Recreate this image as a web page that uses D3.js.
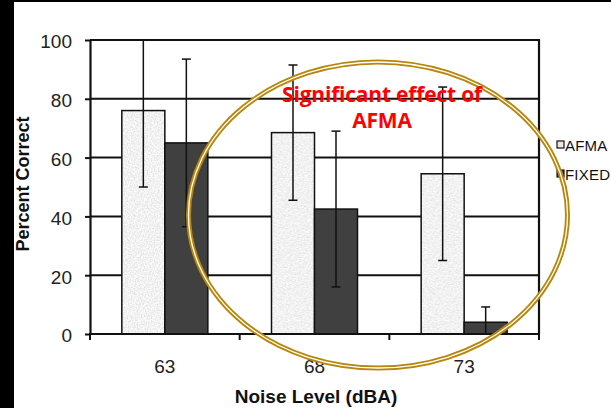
<!DOCTYPE html>
<html><head><meta charset="utf-8">
<script src="https://cdn.jsdelivr.net/npm/d3@7"></script>
<style>
html,body{margin:0;padding:0;background:#fff;}
svg{display:block;}
</style></head>
<body>
<svg id="chart" width="611" height="408"></svg>
<script>
const categories = ["63", "68", "73"];
const seriesNames = ["AFMA", "FIXED"];
const afmaValues = [76, 68.5, 54.5];
const afmaErrors = [26, 23, 29.5];
const fixedValues = [65, 42.5, 4];
const fixedErrors = [28.5, 26.5, 5.2];
const yTickValues = [0, 20, 40, 60, 80, 100];
const annotationLines = ["Significant effect of", "AFMA"];
const xTitle = "Noise Level (dBA)";
const yTitle = "Percent Correct";

const series = [
  {name: seriesNames[0], values: afmaValues, errors: afmaErrors},
  {name: seriesNames[1], values: fixedValues, errors: fixedErrors}
];

const svg = d3.select("#chart");
const W = 611, H = 408;
const plot = {left: 90, right: 539, top: 40, bottom: 334};

// defs: speckled texture for AFMA
const defs = svg.append("defs");
const f = defs.append("filter").attr("id", "noise")
  .attr("x", 0).attr("y", 0).attr("width", "100%").attr("height", "100%")
  .attr("filterUnits", "userSpaceOnUse");
f.append("feTurbulence").attr("type", "fractalNoise").attr("baseFrequency", 0.7)
  .attr("numOctaves", 2).attr("seed", 3).attr("result", "t");
f.append("feColorMatrix").attr("type", "matrix")
  .attr("values", "0.45 0 0 0 0.66  0.45 0 0 0 0.66  0.45 0 0 0 0.66  0 0 0 0 1");
const pat = defs.append("pattern").attr("id", "speck").attr("patternUnits", "userSpaceOnUse")
  .attr("width", W).attr("height", H);
pat.append("rect").attr("width", W).attr("height", H).attr("filter", "url(#noise)");

const fills = {AFMA: "url(#speck)", FIXED: "#404040"};

const x0 = d3.scaleBand().domain(categories).range([plot.left, plot.right]).paddingInner(0).paddingOuter(0);
const x1 = d3.scaleBand().domain(seriesNames).range([0, x0.bandwidth()]).paddingInner(0).paddingOuter(0.74);
const y = d3.scaleLinear().domain([0, 100]).range([plot.bottom, plot.top]);

// frame strips
svg.append("rect").attr("x", 0).attr("y", 0).attr("width", W).attr("height", 2).attr("fill", "#000");
svg.append("rect").attr("x", 0).attr("y", 0).attr("width", 14).attr("height", H).attr("fill", "#000");

// gridlines
svg.append("g").selectAll("line").data(yTickValues.filter(d => d > 0)).join("line")
  .attr("x1", plot.left).attr("x2", plot.right)
  .attr("y1", d => y(d)).attr("y2", d => y(d))
  .attr("stroke", "#111").attr("stroke-width", 2);

// bars
const groups = svg.append("g").selectAll("g").data(categories).join("g")
  .attr("transform", c => `translate(${x0(c)},0)`);

groups.selectAll("rect").data((c, i) => series.map(s => ({name: s.name, v: s.values[i], e: s.errors[i]})))
  .join("rect")
  .attr("x", d => x1(d.name)).attr("width", x1.bandwidth())
  .attr("y", d => y(d.v)).attr("height", d => y(0) - y(d.v))
  .attr("fill", d => fills[d.name]).attr("stroke", "#111").attr("stroke-width", 1.5);

// error bars
const eb = groups.selectAll("g.err").data((c, i) => series.map(s => ({name: s.name, v: s.values[i], e: s.errors[i]})))
  .join("g").attr("class", "err");
const clamp = v => Math.max(0, Math.min(100, v));
eb.append("line")
  .attr("x1", d => x1(d.name) + x1.bandwidth() / 2).attr("x2", d => x1(d.name) + x1.bandwidth() / 2)
  .attr("y1", d => y(clamp(d.v + d.e))).attr("y2", d => y(clamp(d.v - d.e)))
  .attr("stroke", "#111").attr("stroke-width", 1.5);
[1, -1].forEach(sgn => {
  eb.append("line")
    .attr("x1", d => x1(d.name) + x1.bandwidth() / 2 - 4.5).attr("x2", d => x1(d.name) + x1.bandwidth() / 2 + 4.5)
    .attr("y1", d => y(clamp(d.v + sgn * d.e))).attr("y2", d => y(clamp(d.v + sgn * d.e)))
    .attr("stroke", "#111").attr("stroke-width", 1.5);
});

// y axis
const yAxis = svg.append("g").attr("transform", `translate(${plot.left},0)`)
  .call(d3.axisLeft(y).tickValues(yTickValues).tickSize(5).tickSizeOuter(0).tickPadding(13));
yAxis.select(".domain").attr("stroke", "#111").attr("stroke-width", 2.2);
yAxis.selectAll(".tick line").attr("stroke", "#111").attr("stroke-width", 2);
yAxis.selectAll(".tick text").attr("font-family", "'Liberation Sans', Arial, sans-serif")
  .attr("font-size", 19).attr("fill", "#222").attr("dy", "0.42em");

// x axis
const xAxis = svg.append("g").attr("transform", `translate(0,${plot.bottom})`)
  .call(d3.axisBottom(x0).tickSize(0).tickSizeOuter(0));
xAxis.select(".domain").attr("stroke", "#111").attr("stroke-width", 2.2)
  .attr("d", `M${plot.left - 1},0H${plot.right + 1}`);
xAxis.selectAll(".tick text").attr("font-family", "'Liberation Sans', Arial, sans-serif")
  .attr("font-size", 19).attr("fill", "#222").attr("dy", null).attr("y", 39);
// boundary ticks between categories
const edges = categories.map(c => x0(c)).concat([x0.range()[1]]);
xAxis.append("g").selectAll("line").data(edges).join("line")
  .attr("x1", d => d).attr("x2", d => d).attr("y1", 0).attr("y2", 6)
  .attr("stroke", "#111").attr("stroke-width", 2);

// right border
svg.append("line").attr("x1", plot.right).attr("x2", plot.right)
  .attr("y1", plot.top - 1).attr("y2", plot.bottom)
  .attr("stroke", "#111").attr("stroke-width", 2.2);

// axis titles
svg.append("text").attr("x", 316).attr("y", 403).attr("text-anchor", "middle")
  .attr("font-family", "'Liberation Sans', Arial, sans-serif").attr("font-weight", "bold")
  .attr("font-size", 19).attr("fill", "#111").text(xTitle);
svg.append("text").attr("transform", "translate(29,184) rotate(-90)").attr("text-anchor", "middle")
  .attr("font-family", "'Liberation Sans', Arial, sans-serif").attr("font-weight", "bold")
  .attr("font-size", 18).attr("fill", "#111").text(yTitle);

// legend
const legend = svg.append("g");
seriesNames.forEach((n, i) => {
  const ly = 145 + i * 29;
  legend.append("rect").attr("x", 557).attr("y", ly - 4).attr("width", 7).attr("height", 7)
    .attr("fill", n === "AFMA" ? "#e8e8e8" : "#404040").attr("stroke", "#111").attr("stroke-width", 1.2);
  legend.append("text").attr("x", 565).attr("y", ly + 5.5)
    .attr("font-family", "'Liberation Sans', Arial, sans-serif").attr("font-size", 15)
    .attr("letter-spacing", 0.2).attr("fill", "#111").text(n);
});

// ellipse annotation (double gold line)
const ell = {cx: 378, cy: 215, rx: 189.5, ry: 153};
svg.append("ellipse").attr("cx", ell.cx).attr("cy", ell.cy).attr("rx", ell.rx).attr("ry", ell.ry)
  .attr("fill", "none").attr("stroke", "#b8860b").attr("stroke-width", 5);
svg.append("ellipse").attr("cx", ell.cx).attr("cy", ell.cy).attr("rx", ell.rx).attr("ry", ell.ry)
  .attr("fill", "none").attr("stroke", "#fff").attr("stroke-width", 1.3);

// annotation text
annotationLines.forEach((t, i) => {
  svg.append("text").attr("x", 382).attr("y", 102 + i * 26).attr("text-anchor", "middle")
    .attr("font-family", "'Open Sans', Lato, sans-serif").attr("font-weight", "bold")
    .attr("font-size", 21).attr("letter-spacing", -0.2).attr("fill", "#ff0000").text(t);
});
</script>
</body></html>
